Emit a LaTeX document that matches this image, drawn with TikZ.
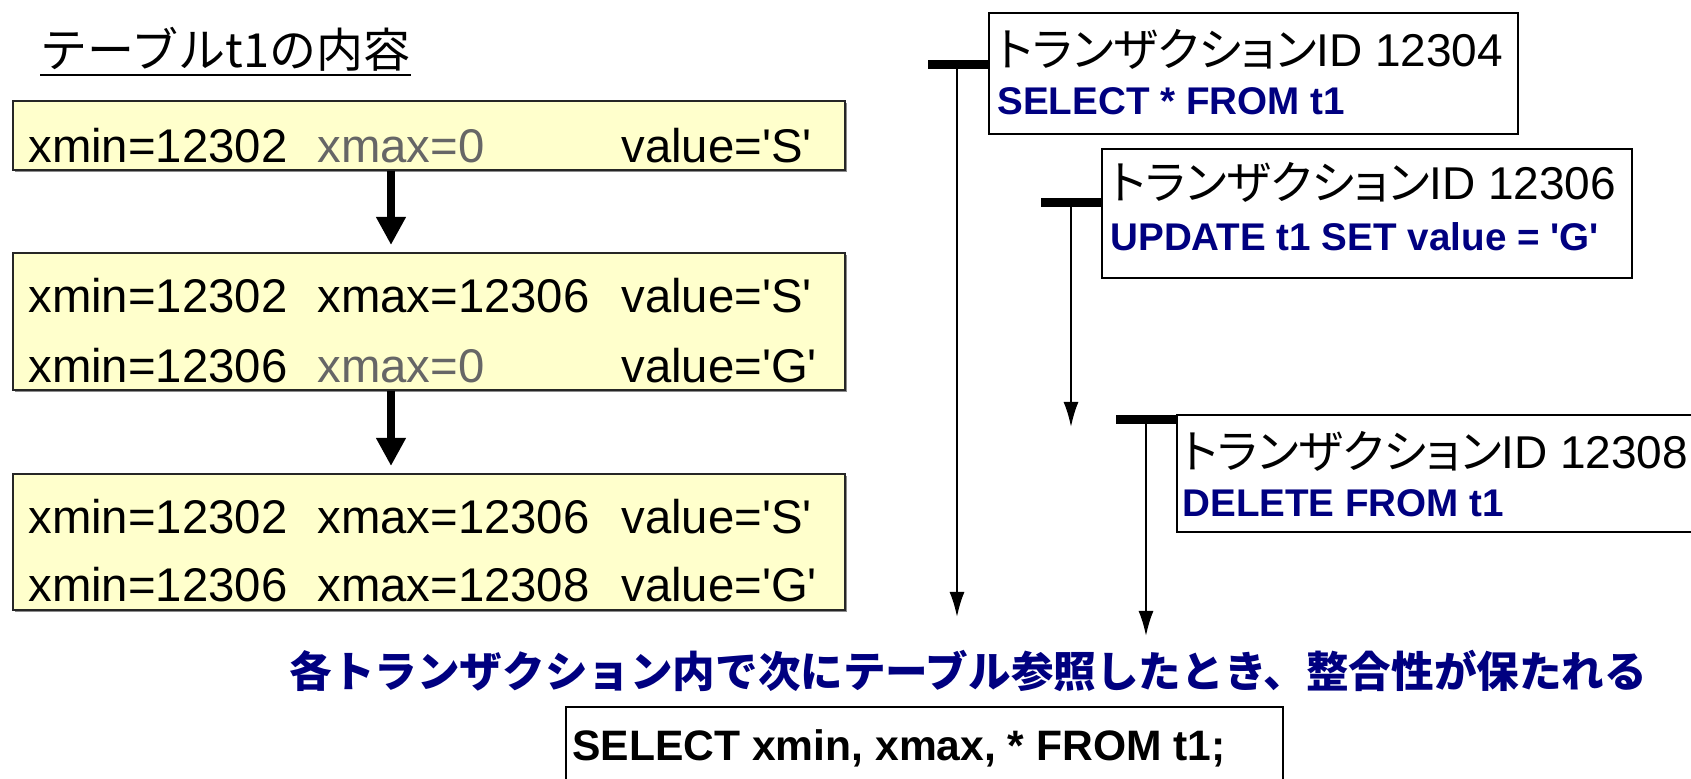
\documentclass[tikz,border=0pt]{standalone}
\usepackage{fontspec}
\setmainfont{Liberation Sans}
\newfontfamily\jpfont{Noto Sans CJK JP}
\newfontfamily\jpkana[RawFeature=+palt]{Noto Sans CJK JP}
\usepackage{tikz}
\usetikzlibrary{calc,shadows,arrows.meta}
\definecolor{rowyellow}{HTML}{FFFFCC}
\definecolor{sqlblue}{HTML}{000080}
\definecolor{oldgray}{HTML}{666666}

\begin{document}
\begin{tikzpicture}[x=0.5pt,y=-0.5pt,
        rowbox/.style={draw=black!85,line width=1pt,fill=rowyellow,anchor=north west,inner sep=0pt,
            minimum width=416pt,drop shadow={shadow xshift=1pt,shadow yshift=-1pt,fill=black!45,opacity=1}},
        txbox/.style={draw=black,line width=1pt,fill=white,anchor=north west,inner sep=0pt},
        cell/.style={anchor=base west,inner sep=0pt,font=\fontsize{23.65pt}{28pt}\selectfont},
        idtext/.style={anchor=base west,inner sep=0pt,font=\fontsize{23pt}{28pt}\selectfont},
        sqltext/.style={anchor=base west,inner sep=0pt,text=sqlblue,font=\fontsize{19.3pt}{23pt}\selectfont\bfseries},
        bigarrow/.style={line width=4pt,-{Triangle[length=14pt,width=14pt]},shorten >=3.5pt},
        tbar/.style={line width=4.5pt},
        tarrow/.style={line width=1pt,-{Latex[length=12.5pt,width=7.5pt]}}]
    \useasboundingbox (0,0) rectangle (1691,779);
    \clip (0,0) rectangle (1691,779);

    \node[anchor=base west,inner sep=0pt,font=\fontsize{23.5pt}{28pt}\selectfont\jpfont] (title) at (40,68) {テーブルt1の内容};
    \draw[line width=1pt] ($(title.base west)+(0,7)$) -- ($(title.base east)+(0,7)$);

    \node[rowbox,minimum height=34.5pt] (row1) at (12,100) {};
    \node[rowbox,minimum height=68.5pt] (row2) at (12,252) {};
    \node[rowbox,minimum height=68pt] (row3) at (12,473) {};

    \node[cell] (r1a) at (28,163) {xmin=12302};
    \node[cell,text=oldgray] (r1b) at (317,163) {xmax=0};
    \node[cell] (r1c) at (621,163) {value=\textquotesingle S\textquotesingle};
    \node[cell] (r2a) at (28,313) {xmin=12302};
    \node[cell] (r2b) at (317,313) {xmax=12306};
    \node[cell] (r2c) at (621,313) {value=\textquotesingle S\textquotesingle};
    \node[cell] (r2d) at (28,383) {xmin=12306};
    \node[cell,text=oldgray] (r2e) at (317,383) {xmax=0};
    \node[cell] (r2f) at (621,383) {value=\textquotesingle G\textquotesingle};
    \node[cell] (r3a) at (28,534) {xmin=12302};
    \node[cell] (r3b) at (317,534) {xmax=12306};
    \node[cell] (r3c) at (621,534) {value=\textquotesingle S\textquotesingle};
    \node[cell] (r3d) at (28,602) {xmin=12306};
    \node[cell] (r3e) at (317,602) {xmax=12308};
    \node[cell] (r3f) at (621,602) {value=\textquotesingle G\textquotesingle};

    \coordinate (ax) at (391,0);
    \draw[bigarrow] (row1.south -| ax) -- (row2.north -| ax);
    \draw[bigarrow] (row2.south -| ax) -- (row3.north -| ax);

    \node[txbox,minimum width=264.5pt,minimum height=60.5pt] (t1box) at (988,12) {};
    \node[txbox,minimum width=265pt,minimum height=64.5pt] (t2box) at (1101,148) {};
    \node[txbox,minimum width=300pt,minimum height=58.5pt] (t3box) at (1176,414) {};

    \node[idtext] (t1id) at (997,67) {{\jpkana トランザクション}ID 12304};
    \node[sqltext] (t1sql) at (997,115) {SELECT * FROM t1};
    \node[idtext] (t2id) at (1110,200) {{\jpkana トランザクション}ID 12306};
    \node[sqltext] (t2sql) at (1110,251) {UPDATE t1 SET value = \textquotesingle G\textquotesingle};
    \node[idtext] (t3id) at (1182,469) {{\jpkana トランザクション}ID 12308};
    \node[sqltext] (t3sql) at (1182,517) {DELETE FROM t1};

    \coordinate (t1bar) at (928,65);
    \coordinate (t2bar) at (1041,203);
    \coordinate (t3bar) at (1116,420);
    \coordinate (t1end) at (957,617);
    \coordinate (t2end) at (1071,427);
    \coordinate (t3end) at (1146,636);
    \draw[tbar] (t1bar) -- (t1bar -| t1box.west);
    \draw[tbar] (t2bar) -- (t2bar -| t2box.west);
    \draw[tbar] (t3bar) -- (t3bar -| t3box.west);
    \draw[tarrow] (t1end |- t1bar) -- (t1end);
    \draw[tarrow] (t2end |- t2bar) -- (t2end);
    \draw[tarrow] (t3end |- t3bar) -- (t3end);

    \node[anchor=base west,inner sep=0pt,text=sqlblue,font=\fontsize{21.3pt}{26pt}\selectfont\jpfont\bfseries] (note) at (289,688) {各トランザクション内で次にテーブル参照したとき、整合性が保たれる};

    \node[txbox,minimum width=358.5pt,minimum height=60pt] (selbox) at (565,706) {};
    \node[anchor=base west,inner sep=0pt,font=\fontsize{21.3pt}{26pt}\selectfont\bfseries] (seltext) at (572,760) {SELECT xmin, xmax, * FROM t1;};
\end{tikzpicture}
\end{document}
